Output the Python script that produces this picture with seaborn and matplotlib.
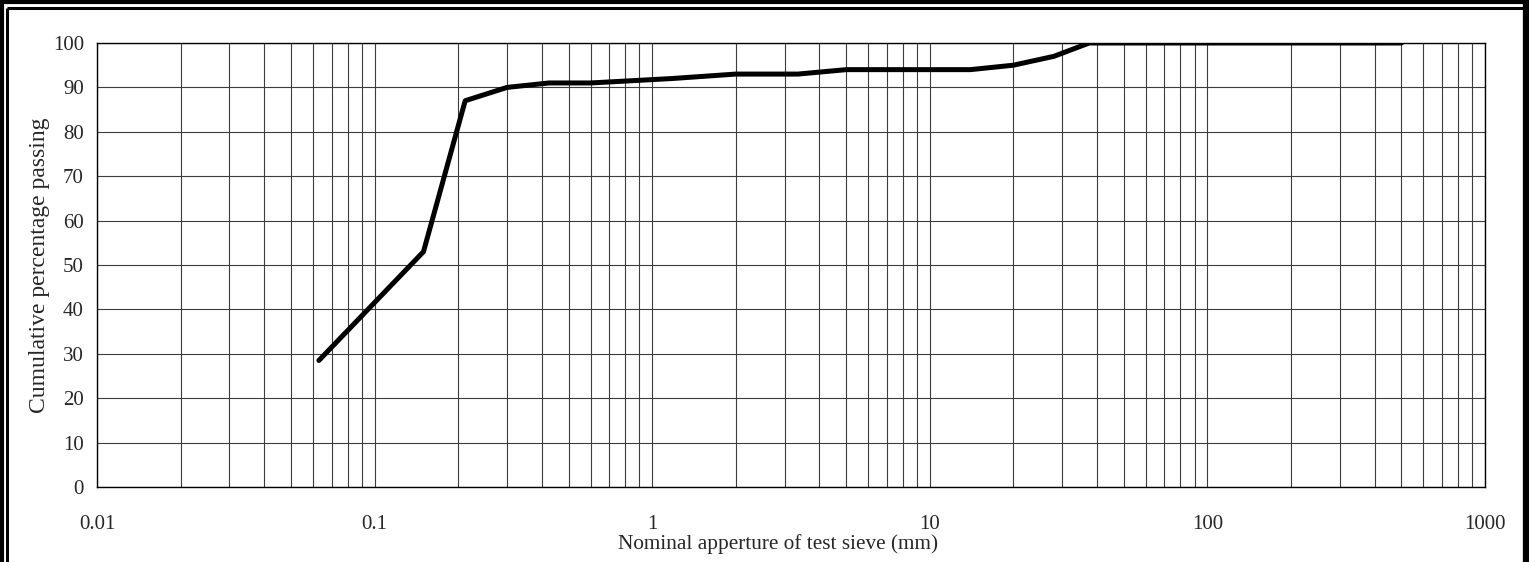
import matplotlib
matplotlib.use("Agg")
import matplotlib.pyplot as plt
import matplotlib.ticker as mticker
from matplotlib.lines import Line2D
import seaborn as sns
import pandas as pd

# sieve sizes (mm) and cumulative % passing
sieve_mm = [0.063, 0.15, 0.212, 0.3, 0.425, 0.6, 1.18, 2, 3.35, 5, 6.3, 10, 14,
            20, 28, 37.5, 50, 63, 75, 100, 125, 200, 300, 500]
passing = [28.5, 53, 87, 90, 91, 91, 92, 93, 93, 94, 94, 94, 94,
           95, 97, 100, 100, 100, 100, 100, 100, 100, 100, 100]
x_ticks = [0.01, 0.1, 1, 10, 100, 1000]
x_tick_labels = ["0.01", "0.1", "1", "10", "100", "1000"]
y_ticks = list(range(0, 101, 10))

df = pd.DataFrame({"sieve": sieve_mm, "passing": passing})

sns.set_style("white")
plt.rcParams["font.family"] = ["Liberation Serif", "DejaVu Serif"]
plt.rcParams["font.size"] = 15

fig = plt.figure(figsize=(15.29, 5.62), dpi=100)
ax = fig.add_axes([97 / 1529, 1 - 487 / 562, (1485 - 97) / 1529, (487 - 43) / 562])

sns.lineplot(data=df, x="sieve", y="passing", ax=ax, color="black",
             linewidth=3.6, sort=False, zorder=5)

ax.set_xscale("log")
ax.set_xlim(0.01, 1000)
ax.set_ylim(0, 100)
ax.set_xticks(x_ticks)
ax.set_xticklabels(x_tick_labels)
ax.set_yticks(y_ticks)
ax.xaxis.set_minor_locator(mticker.LogLocator(base=10, subs=range(2, 10), numticks=20))
ax.xaxis.set_minor_formatter(mticker.NullFormatter())

ax.grid(True, which="both", axis="x", color="#3c3c3c", linewidth=0.8)
ax.grid(True, which="major", axis="y", color="#3c3c3c", linewidth=0.8)
ax.tick_params(axis="x", which="minor", length=0)
ax.tick_params(axis="x", which="major", direction="inout", length=10, width=1,
               color="black", pad=15, labelsize=15)
ax.tick_params(axis="y", which="major", direction="inout", length=11, width=1,
               color="black", pad=4, labelsize=15)

for s in ax.spines.values():
    s.set_color("black")
    s.set_linewidth(1)

ax.set_xlabel("Nominal apperture of test sieve (mm)", fontsize=15.3, labelpad=-2)
ax.xaxis.set_label_coords((778 - 97) / (1485 - 97), -0.105)
ax.set_ylabel("Cumulative percentage passing", fontsize=17, labelpad=2)

# double frame around figure
W, H = 1529, 562
def fline(x0, y0, x1, y1, lw):
    fig.add_artist(Line2D([x0 / W, x1 / W], [1 - y0 / H, 1 - y1 / H],
                          color="black", linewidth=lw, transform=fig.transFigure,
                          solid_capstyle="butt"))

fline(2, 0, 2, H, 3.0)
fline(0, 2, W, 2, 3.0)
fline(7.5, 7.5, 7.5, H, 2.2)
fline(7.5, 7.5, 1523, 7.5, 2.2)
fline(1526, 0, 1526, H, 4.5)

fig.savefig("out.png", dpi=100)
